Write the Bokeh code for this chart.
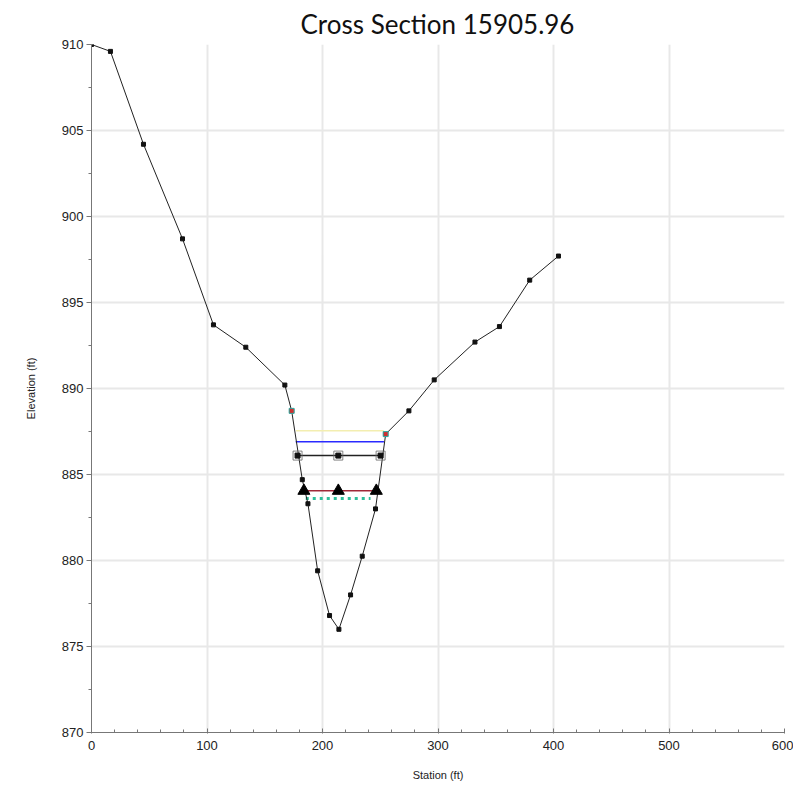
from bokeh.plotting import figure
from bokeh.embed import file_html
from bokeh.resources import INLINE
from bokeh.models import Range1d, FixedTicker

# Ground profile
station = [0, 16.4, 45, 78.8, 105.6, 133.6, 167.4, 173.3, 182.5, 187.4, 195.8, 206.1,
           214.2, 224.3, 234.4, 245.9, 254.7, 274.8, 296.7, 332.0, 353.2, 379.4, 404.3]
elevation = [910.0, 909.6, 904.2, 898.7, 893.7, 892.4, 890.2, 888.7, 884.7, 883.3, 879.4, 876.8,
             876.0, 878.0, 880.25, 883.0, 887.35, 888.7, 890.5, 892.7, 893.6, 896.3, 897.7]

# Bank stations
bank_station = [173.3, 254.7]
bank_elev = [888.7, 887.35]

# Water surface / energy lines
eg_station = [177.0, 253.0]
eg_elev = [887.55, 887.55]
ws_blue_station = [176.8, 253.2]
ws_blue_elev = [886.9, 886.9]
ws_black_station = [178.4, 250.3]
ws_black_elev = [886.1, 886.1]
ws_black_marks = [178.4, 213.7, 250.3]
ws_red_station = [183.9, 246.6]
ws_red_elev = [884.05, 884.05]
tri_station = [183.9, 213.7, 246.6]
tri_elev = [884.05, 884.05, 884.05]
crit_station = [185.5, 241.6]
crit_elev = [883.6, 883.6]

x_ticks = [0, 100, 200, 300, 400, 500, 600]
y_ticks = [870, 875, 880, 885, 890, 895, 900, 905, 910]

p = figure(width=793, height=783, output_backend="svg", toolbar_location=None,
           x_range=Range1d(0, 600), y_range=Range1d(870, 910),
           min_border_left=91, min_border_right=9, min_border_bottom=50, min_border_top=44,
           title="Cross Section 15905.96")
p.title.align = "left"
p.title.offset = 209
p.title.text_font = "Lato"
p.title.text_font_size = "26px"
p.title.text_font_style = "normal"
p.title.text_color = "#111111"

p.outline_line_color = None
p.background_fill_color = "white"

p.xaxis.ticker = FixedTicker(ticks=x_ticks, minor_ticks=list(range(0, 601, 20)))
p.yaxis.ticker = FixedTicker(ticks=y_ticks, minor_ticks=[870 + 2.5 * i for i in range(17)])
p.xaxis.axis_label = "Station (ft)"
p.yaxis.axis_label = "Elevation (ft)"
for ax in (p.xaxis[0], p.yaxis[0]):
    ax.axis_line_color = "#777777"
    ax.major_tick_line_color = "#777777"
    ax.minor_tick_line_color = "#777777"
    ax.major_label_text_font = "Liberation Sans"
    ax.major_label_text_font_size = "13px"
    ax.major_label_text_color = "#222222"
    ax.axis_label_text_font = "Liberation Sans"
    ax.axis_label_text_font_size = "11px"
    ax.axis_label_text_font_style = "normal"
    ax.axis_label_text_color = "#222222"
p.xaxis.major_tick_in = 4
p.xaxis.major_tick_out = 1
p.xaxis.minor_tick_in = 3
p.xaxis.minor_tick_out = 0
p.xaxis.major_label_standoff = 7
p.xaxis.axis_label_standoff = 16
p.yaxis.major_tick_in = 0
p.yaxis.major_tick_out = 5
p.yaxis.minor_tick_in = 0
p.yaxis.minor_tick_out = 3
p.yaxis.major_label_standoff = 3
p.yaxis.axis_label_standoff = 22

p.xgrid.grid_line_color = "#e8e8e8"
p.ygrid.grid_line_color = "#e8e8e8"
p.xgrid.grid_line_width = 2
p.ygrid.grid_line_width = 2

# Lines
p.line(eg_station, eg_elev, line_color="#f3eeb0", line_width=1.5)
p.line(ws_blue_station, ws_blue_elev, line_color="#2a2aff", line_width=1.5)
p.line(ws_black_station, ws_black_elev, line_color="#222222", line_width=1.5)
p.line(ws_red_station, ws_red_elev, line_color="#a02838", line_width=1.5)
p.line(crit_station, crit_elev, line_color="#2fbf9a", line_width=3, line_dash="3 4")

# Ground
p.line(station, elevation, line_color="#222222", line_width=1)
p.scatter(station, elevation, marker="square", size=4, color="#111111")
p.scatter(bank_station, bank_elev, marker="square", size=5, fill_color="#d03030", line_color="#30b0a8")

# markers
p.scatter(ws_black_marks, [886.1] * 3, marker="square", size=5, color="#111111")
p.scatter(ws_black_marks, [886.1] * 3, marker="square", size=9, fill_color=None, line_color="#666666", line_width=0.8)
p.scatter(tri_station, tri_elev, marker="triangle", size=12, color="#000000")

open("out.html", "w").write(file_html(p, INLINE))
